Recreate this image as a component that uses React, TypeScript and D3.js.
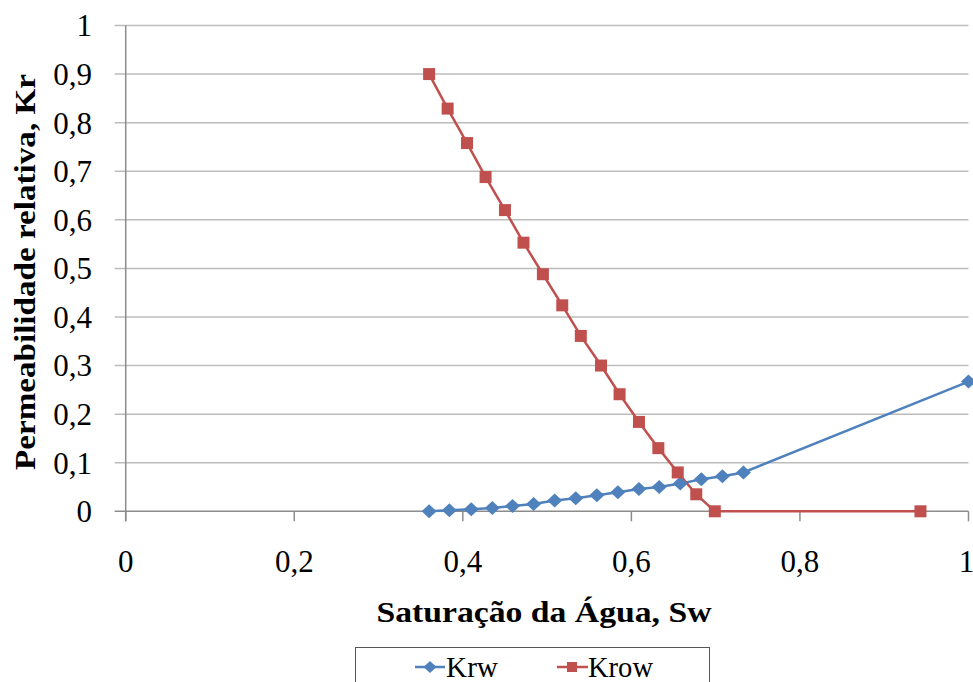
import React from "react";
import * as d3 from "d3";

const krwSw = [0.36, 0.384, 0.41, 0.435, 0.459, 0.484, 0.509, 0.534, 0.559, 0.584, 0.609, 0.633, 0.658, 0.683, 0.708, 0.733, 1.0];
const krwKr = [0.0, 0.002, 0.004, 0.007, 0.011, 0.015, 0.022, 0.027, 0.033, 0.039, 0.046, 0.05, 0.057, 0.066, 0.072, 0.08, 0.267];

const krowSw = [0.36, 0.382, 0.405, 0.427, 0.45, 0.472, 0.495, 0.518, 0.54, 0.564, 0.586, 0.609, 0.632, 0.655, 0.677, 0.699, 0.943];
const krowKr = [0.9, 0.829, 0.758, 0.688, 0.62, 0.553, 0.488, 0.424, 0.361, 0.3, 0.241, 0.184, 0.13, 0.08, 0.035, 0.0, 0.0];

const xTicks = [0, 0.2, 0.4, 0.6, 0.8, 1];
const yTicks = [0, 0.1, 0.2, 0.3, 0.4, 0.5, 0.6, 0.7, 0.8, 0.9, 1];

const seriesNames = ["Krw", "Krow"];
const colors = ["#4F81BD", "#C0504D"];

const fmt = (v: number) => (v === 0 || v === 1 ? String(v) : v.toFixed(1).replace(".", ","));

export default function App() {
  const W = 973, H = 682;
  const x = d3.scaleLinear().domain([0, 1]).range([125.7, 968.5]);
  const y = d3.scaleLinear().domain([0, 1]).range([511.3, 25.5]);

  const krw = krwSw.map((s, i) => [s, krwKr[i]] as [number, number]);
  const krow = krowSw.map((s, i) => [s, krowKr[i]] as [number, number]);
  const line = d3.line<[number, number]>().x(d => x(d[0])).y(d => y(d[1]));

  const diamond = (cx: number, cy: number, rx: number, ry: number) =>
    `M${cx},${cy - ry}L${cx + rx},${cy}L${cx},${cy + ry}L${cx - rx},${cy}Z`;

  const font = "'Liberation Serif', 'Times New Roman', serif";

  return (
    <svg width={W} height={H} style={{ position: "absolute", left: 0, top: 0, background: "#fff" }} fontFamily={font}>
      {/* gridlines */}
      {yTicks.map(t => (
        <line key={"g" + t} x1={x(0) - 11} x2={x(1)} y1={y(t)} y2={y(t)} stroke={t === 0 ? "#8c8c8c" : "#bcbcbc"} strokeWidth={1.5} />
      ))}
      {/* y axis */}
      <line x1={x(0)} x2={x(0)} y1={y(1)} y2={y(0) + 10} stroke="#8c8c8c" strokeWidth={1.5} />
      {/* x ticks */}
      {xTicks.map(t => (
        <line key={"xt" + t} x1={x(t)} x2={x(t)} y1={y(0)} y2={y(0) + 10} stroke="#8c8c8c" strokeWidth={1.5} />
      ))}
      {/* y tick labels */}
      {yTicks.map(t => (
        <text key={"yl" + t} x={92} y={y(t)} dy="0.35em" textAnchor="end" fontSize={31} fill="#000">{fmt(t)}</text>
      ))}
      {/* x tick labels */}
      {xTicks.map(t => (
        <text key={"xl" + t} x={t === 1 ? x(t) - 2 : x(t)} y={572} textAnchor="middle" fontSize={31} fill="#000">{fmt(t)}</text>
      ))}
      {/* axis titles */}
      <text x={544} y={622} textAnchor="middle" fontSize={30} fontWeight="bold" textLength={335} lengthAdjust="spacingAndGlyphs">Saturação da Água, Sw</text>
      <text transform={`translate(35,272) rotate(-90)`} textAnchor="middle" fontSize={30} fontWeight="bold" textLength={396} lengthAdjust="spacingAndGlyphs">Permeabilidade relativa, Kr</text>

      {/* series */}
      <path d={line(krw) || ""} fill="none" stroke={colors[0]} strokeWidth={2.5} />
      <path d={line(krow) || ""} fill="none" stroke={colors[1]} strokeWidth={2.5} />
      {krw.map((d, i) => (
        <path key={"d" + i} d={diamond(x(d[0]), y(d[1]), 7.5, 7)} fill={colors[0]} />
      ))}
      {krow.map((d, i) => (
        <rect key={"s" + i} x={x(d[0]) - 6} y={y(d[1]) - 6} width={12} height={12} fill={colors[1]} />
      ))}

      {/* legend */}
      <rect x={355.5} y={647.5} width={354} height={50} fill="#fff" stroke="#555" strokeWidth={1} />
      <g>
        <line x1={415} x2={445} y1={667} y2={667} stroke={colors[0]} strokeWidth={2.5} />
        <path d={diamond(430, 667, 6.5, 6)} fill={colors[0]} />
        <text x={446} y={677} fontSize={29} textLength={52} lengthAdjust="spacingAndGlyphs">{seriesNames[0]}</text>
        <line x1={557} x2={588} y1={667} y2={667} stroke={colors[1]} strokeWidth={2.5} />
        <rect x={567} y={662} width={10} height={10} fill={colors[1]} />
        <text x={588} y={677} fontSize={29} textLength={65} lengthAdjust="spacingAndGlyphs">{seriesNames[1]}</text>
      </g>
    </svg>
  );
}
